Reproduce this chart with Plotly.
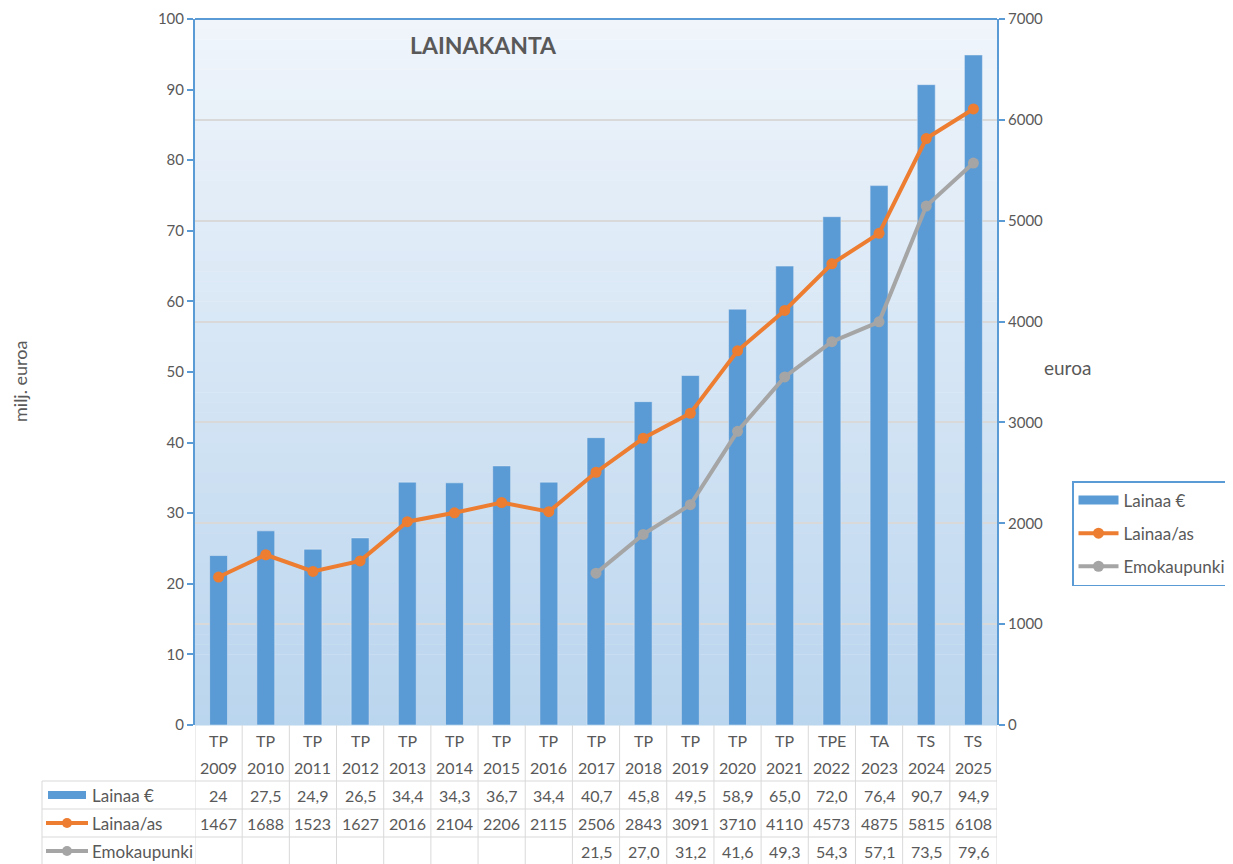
import plotly.graph_objects as go

# ---------------- data ----------------
budget_type = ["TP", "TP", "TP", "TP", "TP", "TP", "TP", "TP", "TP", "TP", "TP", "TP", "TP",
               "TPE", "TA", "TS", "TS"]
years = ["2009", "2010", "2011", "2012", "2013", "2014", "2015", "2016", "2017",
         "2018", "2019", "2020", "2021", "2022", "2023", "2024", "2025"]
lainaa = [24, 27.5, 24.9, 26.5, 34.4, 34.3, 36.7, 34.4, 40.7, 45.8, 49.5, 58.9,
          65.0, 72.0, 76.4, 90.7, 94.9]
lainaa_as = [1467, 1688, 1523, 1627, 2016, 2104, 2206, 2115, 2506, 2843, 3091, 3710,
             4110, 4573, 4875, 5815, 6108]
emokaupunki = [None, None, None, None, None, None, None, None, 21.5, 27.0, 31.2, 41.6,
               49.3, 54.3, 57.1, 73.5, 79.6]
series_names = ["Lainaa €", "Lainaa/as", "Emokaupunki"]

# ---------------- layout helpers ----------------
OFF = 8                      # page body margin
W, H = 1233 - OFF, 864 - OFF
def px(p):
    return (p - OFF) / W
def py(p):
    return 1 - (p - OFF) / H

BLUE = "#5B9BD5"
ORANGE = "#ED7D31"
GRAY = "#A5A5A5"
TXT = "#595959"
GRID = "#D9D9D9"
FONT = "Lato"

PL, PR, PT, PB = 195, 997, 19, 725
x = list(range(len(years)))

fig = go.Figure()
fig.add_trace(go.Bar(x=x, y=lainaa, name=series_names[0], marker_color=BLUE,
                     width=0.38, yaxis="y", legendgroup="a", showlegend=False))
# legend-only entry drawn as a wide bar swatch
fig.add_trace(go.Scatter(x=[None], y=[None], name=series_names[0], mode="lines",
                         line=dict(color=BLUE, width=9), yaxis="y", legendgroup="a"))
fig.add_trace(go.Scatter(x=x, y=lainaa_as, name=series_names[1], mode="lines+markers",
                         line=dict(color=ORANGE, width=4), marker=dict(size=11, color=ORANGE),
                         yaxis="y2", legendgroup="b"))
fig.add_trace(go.Scatter(x=x, y=emokaupunki, name=series_names[2], mode="lines+markers",
                         line=dict(color=GRAY, width=4), marker=dict(size=11, color=GRAY),
                         yaxis="y", legendgroup="c"))

shapes = []
# gradient background of plot area
n = 70
top_c = (240, 245, 251)
bot_c = (186, 213, 238)
for i in range(n):
    t = (i + 0.5) / n
    c = tuple(round(top_c[k] + (bot_c[k] - top_c[k]) * t) for k in range(3))
    y0 = PT + (PB - PT) * i / n
    y1 = PT + (PB - PT) * (i + 1) / n
    shapes.append(dict(type="rect", xref="paper", yref="paper", x0=px(PL), x1=px(PR),
                       y0=py(y1) - 0.0005, y1=py(y0), line=dict(width=0),
                       fillcolor="rgb(%d,%d,%d)" % c, layer="below"))
# top border of plot area
shapes.append(dict(type="line", xref="paper", yref="paper", x0=px(PL), x1=px(PR),
                   y0=py(PT), y1=py(PT), line=dict(color=BLUE, width=2)))

# data table grid
for i in range(len(years) + 1):
    shapes.append(dict(type="line", xref="x", yref="paper", x0=i - 0.5, x1=i - 0.5,
                       y0=py(PB), y1=0, line=dict(color=GRID, width=1)))
for yy in (781, 809, 837):
    shapes.append(dict(type="line", xref="paper", yref="paper", x0=px(42), x1=px(PR),
                       y0=py(yy), y1=py(yy), line=dict(color=GRID, width=1)))
shapes.append(dict(type="line", xref="paper", yref="paper", x0=px(42), x1=px(42),
                   y0=py(781), y1=0, line=dict(color=GRID, width=1)))

# table legend keys
shapes.append(dict(type="rect", xref="paper", yref="paper", x0=px(48), x1=px(86),
                   y0=py(799), y1=py(791), fillcolor=BLUE, line=dict(width=0)))
for yy, col in ((823, ORANGE), (851, GRAY)):
    shapes.append(dict(type="line", xref="paper", yref="paper", x0=px(46), x1=px(88),
                       y0=py(yy), y1=py(yy), line=dict(color=col, width=4)))
    shapes.append(dict(type="circle", xref="paper", yref="paper", x0=px(62), x1=px(72),
                       y0=py(yy + 5), y1=py(yy - 5), fillcolor=col, line=dict(width=0)))

annotations = []
tf = dict(family=FONT, size=16, color=TXT)
lf = dict(family=FONT, size=17, color=TXT)
def fmt1(v):
    return ("%.1f" % v).replace(".", ",")
lainaa_txt = [fmt1(v) for v in lainaa]
lainaa_txt[0] = "24"  # shown without decimals in the source table
def ann(xv, yv, text, font, xref="x", **kw):
    d = dict(x=xv, y=yv, xref=xref, yref="paper", text=text, showarrow=False,
             font=font, yanchor="middle")
    d.setdefault("xanchor", "center")
    d.update(kw)
    annotations.append(d)
for i in x:
    ann(i, py(740), budget_type[i], tf)
    ann(i, py(767), years[i], tf)
    ann(i, py(795), lainaa_txt[i], tf)
    ann(i, py(823), str(lainaa_as[i]), tf)
    if emokaupunki[i] is not None:
        ann(i, py(851), fmt1(emokaupunki[i]), tf)
for yy, name in zip((795, 823, 851), series_names):
    ann(px(90), py(yy), name, lf, xref="paper", xanchor="left")

ann(px(483), py(45), "<b>LAINAKANTA</b>", dict(family=FONT, size=23, color=TXT), xref="paper")
ann(px(20), py(382), "milj. euroa", dict(family=FONT, size=18, color=TXT), xref="paper",
    textangle=-90)
ann(px(1067), py(367), "euroa", dict(family=FONT, size=19, color=TXT), xref="paper")

axfont = dict(family=FONT, size=15, color=TXT)
fig.update_layout(
    width=W, height=H,
    margin=dict(l=0, r=0, t=0, b=0, pad=0, autoexpand=False),
    paper_bgcolor="white",
    plot_bgcolor="rgba(0,0,0,0)",
    font=dict(family=FONT, color=TXT),
    showlegend=True,
    legend=dict(x=px(1072), y=py(481), xanchor="left", yanchor="top",
                bordercolor=BLUE, borderwidth=1.5, bgcolor="white",
                font=dict(family=FONT, size=17, color=TXT),
                traceorder="grouped", tracegroupgap=8, itemwidth=40),
    xaxis=dict(domain=[px(PL), px(PR)], range=[-0.5, len(years) - 0.5],
               showticklabels=False, showgrid=False, zeroline=False, showline=False,
               ticks="", automargin=False),
    yaxis=dict(domain=[py(PB), py(PT)], range=[0, 100], dtick=10, showgrid=False,
               zeroline=False, showline=True, linecolor=BLUE, linewidth=2,
               ticks="outside", ticklen=6, tickcolor=BLUE, tickwidth=2, tickfont=axfont,
               automargin=False),
    yaxis2=dict(overlaying="y", side="right", range=[0, 7000], dtick=1000,
                showgrid=True, gridcolor=GRID, gridwidth=1.5, zeroline=False,
                showline=True, linecolor=BLUE, linewidth=2,
                ticks="outside", ticklen=6, tickcolor=BLUE, tickwidth=2, tickfont=axfont,
                automargin=False),
    bargap=0.6,
    shapes=shapes,
    annotations=annotations,
)

fig.write_html("out.html")
